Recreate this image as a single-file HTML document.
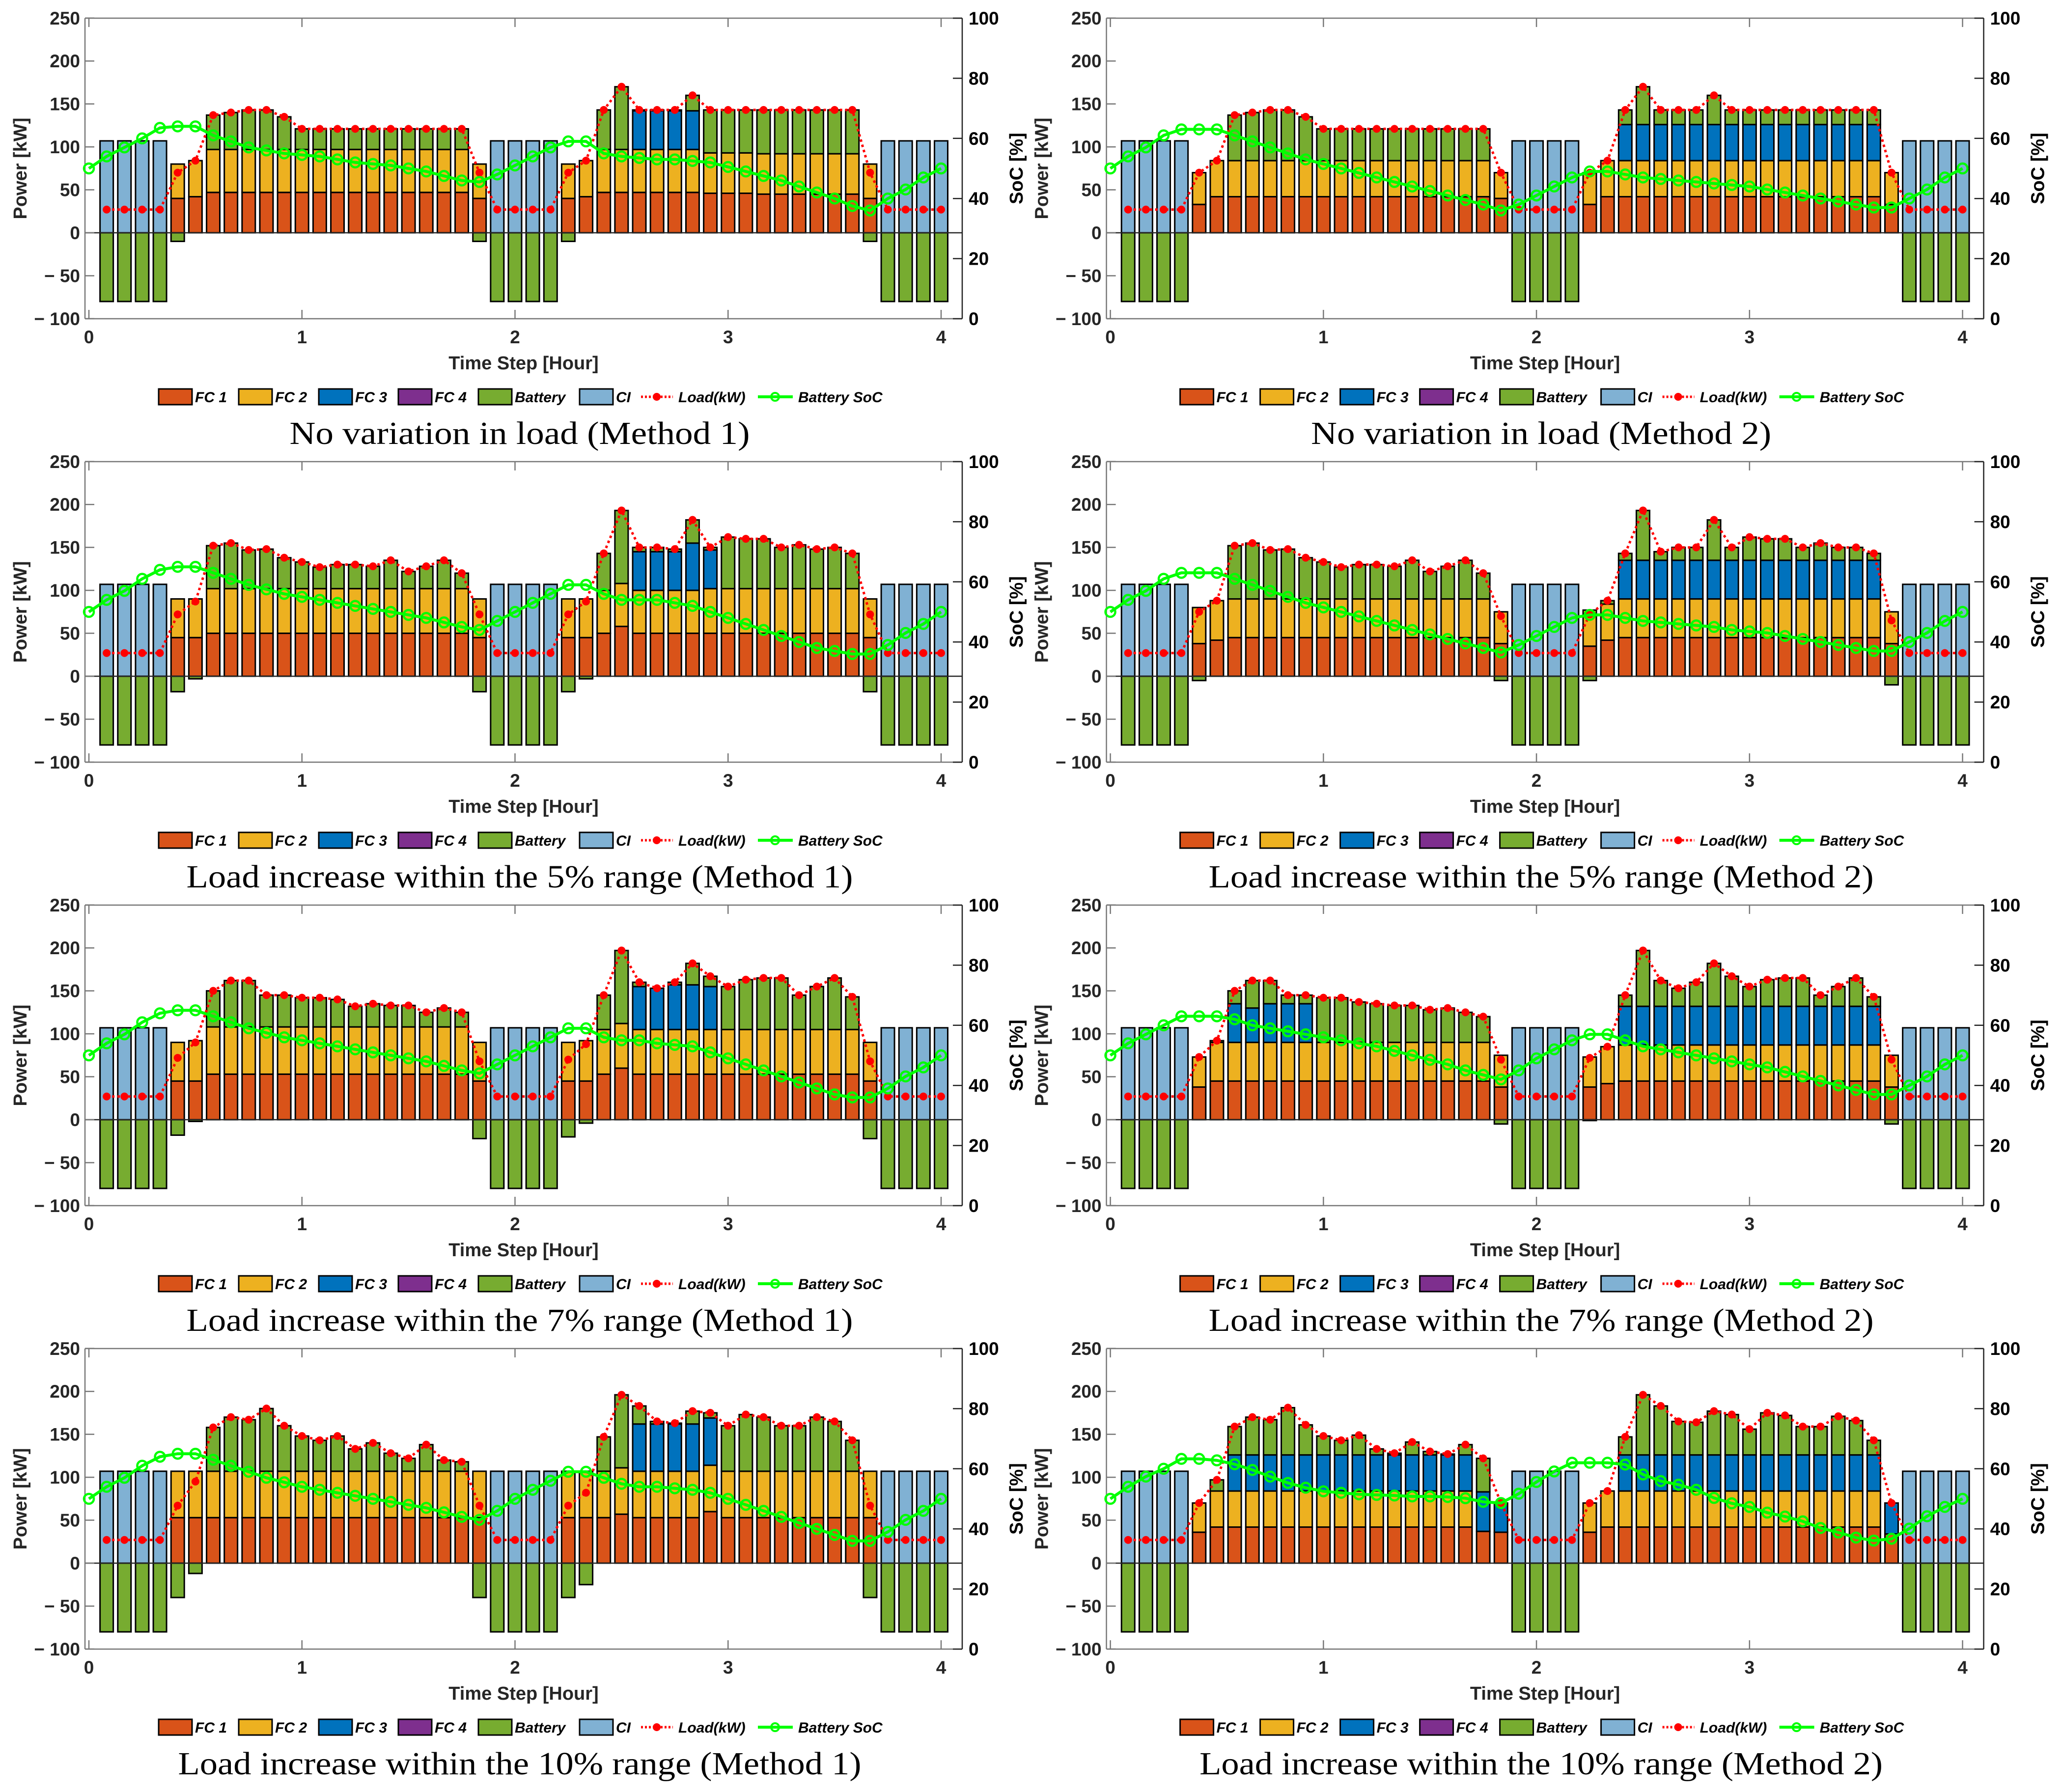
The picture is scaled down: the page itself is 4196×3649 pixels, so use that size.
<!DOCTYPE html>
<html>
<head>
<meta charset="utf-8">
<style>
html,body{margin:0;padding:0;background:#fff;}
svg{display:block;}
</style>
</head>
<body>
<svg id="fig" xmlns="http://www.w3.org/2000/svg" width="4196" height="3649" viewBox="0 0 4196 3649"></svg>
<script>
// ---------- shared data ----------
const ciPower = [107,107,107,107, 0,0,0,0,0,0,0,0,0,0,0,0,0,0,0,0,0,0, 107,107,107,107, 0,0,0,0,0,0,0,0,0,0,0,0,0,0,0,0,0,0, 107,107,107,107];
const xTickLabels = ["0","1","2","3","4"];
const yTickValues = [-100,-50,0,50,100,150,200,250];
const socTickValues = [0,20,40,60,80,100];
const panelTitles = [
  "No variation in load (Method 1)","No variation in load (Method 2)",
  "Load increase within the 5% range (Method 1)","Load increase within the 5% range (Method 2)",
  "Load increase within the 7% range (Method 1)","Load increase within the 7% range (Method 2)",
  "Load increase within the 10% range (Method 1)","Load increase within the 10% range (Method 2)"];
const titleWidths = [937,937,1357,1354,1357,1354,1391,1391];
const legendLabels = ["FC 1","FC 2","FC 3","FC 4","Battery","CI","Load(kW)","Battery SoC"];

// ---------- Panel A: No variation, Method 1 ----------
const loadA = [27,27,27,27,70,84,137,140,143,143,135,121,121,121,121,121,121,121,121,121,121,70,27,27,27,27,70,84,143,170,143,143,143,160,143,143,143,143,143,143,143,143,143,70,27,27,27,27];
const fc1A = [0,0,0,0,40,42,47,47,47,47,47,47,47,47,47,47,47,47,47,47,47,40,0,0,0,0,40,42,47,47,47,47,47,47,46,46,46,45,45,45,45,45,45,40,0,0,0,0];
const fc2A = [0,0,0,0,40,42,50,50,50,50,50,50,50,50,50,50,50,50,50,50,50,40,0,0,0,0,40,42,50,50,50,50,50,50,47,47,47,47,47,47,47,47,47,40,0,0,0,0];
const fc3A = [0,0,0,0,0,0,0,0,0,0,0,0,0,0,0,0,0,0,0,0,0,0,0,0,0,0,0,0,0,0,45,45,45,45,0,0,0,0,0,0,0,0,0,0,0,0,0,0];
const socA = [50,54,57,60,63.5,64,64,61,59,57,56,55,54.5,54,53,52,51.5,51,50,49,47.5,46,45.5,48,51,54,57,59,59,55,54,53.5,53,53,52.5,52,50.5,49,47.5,46,44,42,40,37.5,36,40,43,47,50];

// ---------- Panel B: No variation, Method 2 ----------
const loadB = [27,27,27,27,70,84,137,140,143,143,135,121,121,121,121,121,121,121,121,121,121,70,27,27,27,27,70,84,143,170,143,143,143,160,143,143,143,143,143,143,143,143,143,70,27,27,27,27];
const fc1B = [0,0,0,0,33,42,42,42,42,42,42,42,42,42,42,42,42,42,42,42,42,40,0,0,0,0,33,42,42,42,42,42,42,42,42,42,42,42,42,42,42,42,42,33,0,0,0,0];
const fc2B = [0,0,0,0,37,42,42,42,42,42,42,42,42,42,42,42,42,42,42,42,42,30,0,0,0,0,37,42,42,42,42,42,42,42,42,42,42,42,42,42,42,42,42,37,0,0,0,0];
const fc3B = [0,0,0,0,0,0,0,0,0,0,0,0,0,0,0,0,0,0,0,0,0,0,0,0,0,0,0,0,42,42,42,42,42,42,42,42,42,42,42,42,42,42,42,0,0,0,0,0];
const socB = [50,54,57,61,63,63,63,61,59,57,55,53,51.5,50,48.5,47,45.5,44,42.5,41,39.5,38,36,38,41,44,47,49,49,48,47,46.5,46,45.5,45,44.5,44,43,42,41,40,39,38,37,37,40,43,47,50];

// ---------- Panel C: 5%, Method 1 ----------
const loadC = [27,27,27,27,72,87,152,155,147,148,138,133,127,130,130,128,135,122,128,135,120,72,27,27,27,27,72,87,143,193,150,150,148,182,150,162,160,160,150,153,148,150,143,72,27,27,27,27];
const fc1C = [0,0,0,0,45,45,50,50,50,50,50,50,50,50,50,50,50,50,50,50,50,45,0,0,0,0,45,45,50,58,50,50,50,50,50,50,50,50,50,50,50,50,50,45,0,0,0,0];
const fc2C = [0,0,0,0,45,45,52,52,52,52,52,52,52,52,52,52,52,52,52,52,52,45,0,0,0,0,45,45,50,50,50,50,50,50,52,52,52,52,52,52,52,52,52,45,0,0,0,0];
const fc3C = [0,0,0,0,0,0,0,0,0,0,0,0,0,0,0,0,0,0,0,0,0,0,0,0,0,0,0,0,0,0,45,45,45,55,45,0,0,0,0,0,0,0,0,0,0,0,0,0];
const socC = [50,54,57,61,64,65,65,63,61,59,57.5,56,55,54,53,52,51,50,49,48,46.5,45,44,47,50,53,56,59,59,56,54,54,54,53,52,50,48,46,44,42,40,38,37,36,36,39,43,46,50];

// ---------- Panel D: 5%, Method 2 ----------
const loadD = [27,27,27,27,75,88,152,155,147,148,138,133,127,130,130,128,135,122,128,135,120,70,27,27,27,27,72,88,143,193,145,150,150,182,150,162,160,160,150,155,150,150,143,65,27,27,27,27];
const fc1D = [0,0,0,0,38,42,45,45,45,45,45,45,45,45,45,45,45,45,45,45,45,38,0,0,0,0,35,42,45,45,45,45,45,45,45,45,45,45,45,45,45,45,45,38,0,0,0,0];
const fc2D = [0,0,0,0,42,46,45,45,45,45,45,45,45,45,45,45,45,45,45,45,45,37,0,0,0,0,42,42,45,45,45,45,45,45,45,45,45,45,45,45,45,45,45,37,0,0,0,0];
const fc3D = [0,0,0,0,0,0,0,0,0,0,0,0,0,0,0,0,0,0,0,0,0,0,0,0,0,0,0,0,45,45,45,45,45,45,45,45,45,45,45,45,45,45,45,0,0,0,0,0];
const socD = [50,54,57,61,63,63,63,61,59,57,55,53,51.5,50,48.5,47,45.5,44,42.5,41,39.5,38,36.5,39,42,45,48,49,49,48,47,46.5,46,45.5,45,44,43.5,43,42,41,40,39,38,37,37,40,43,47,50];

// ---------- Panel E: 7%, Method 1 ----------
const loadE = [27,27,27,27,72,90,150,162,162,145,145,142,142,140,132,135,133,133,125,130,125,68,27,27,27,27,70,88,145,197,160,153,160,182,167,155,163,165,165,145,155,165,143,68,27,27,27,27];
const fc1E = [0,0,0,0,45,45,53,53,53,53,53,53,53,53,53,53,53,53,53,53,53,45,0,0,0,0,45,45,53,60,53,53,53,53,53,53,53,53,53,53,53,53,53,45,0,0,0,0];
const fc2E = [0,0,0,0,45,47,55,55,55,55,55,55,55,55,55,55,55,55,55,55,55,45,0,0,0,0,45,47,52,52,52,52,52,52,52,52,52,52,52,52,52,52,52,45,0,0,0,0];
const fc3E = [0,0,0,0,0,0,0,0,0,0,0,0,0,0,0,0,0,0,0,0,0,0,0,0,0,0,0,0,0,0,50,48,52,52,50,0,0,0,0,0,0,0,0,0,0,0,0,0];
const socE = [50,54,57,61,64,65,65,63,61,59,57.5,56,55,54,53,52,51,50,49,48,46.5,45,44,47,50,53,56,59,59,56,55,55,54,53.5,53,51,49,47,45,43,41,39,37,36,36,39,43,46,50];

// ---------- Panel F: 7%, Method 2 ----------
const loadF = [27,27,27,27,73,92,150,162,162,145,145,142,142,137,135,133,133,128,130,125,120,70,27,27,27,27,72,85,145,197,162,153,160,182,167,155,163,165,165,145,155,165,143,70,27,27,27,27];
const fc1F = [0,0,0,0,38,45,45,45,45,45,45,45,45,45,45,45,45,45,45,45,45,38,0,0,0,0,38,42,45,45,45,45,45,45,45,45,45,45,45,45,45,45,45,38,0,0,0,0];
const fc2F = [0,0,0,0,35,45,45,45,45,45,45,45,45,45,45,45,45,45,45,45,45,37,0,0,0,0,35,43,42,42,42,42,42,42,42,42,42,42,42,42,42,42,42,37,0,0,0,0];
const fc3F = [0,0,0,0,0,0,45,40,45,45,45,0,0,0,0,0,0,0,0,0,0,0,0,0,0,0,0,0,45,45,45,45,45,45,45,45,45,45,45,45,45,45,45,0,0,0,0,0];
const socF = [50,54,57,60,63,63,63,62,60,59,58,57,56,55,54,53,51.5,50,48.5,47,45,43.5,42,45,49,52,55,57,57,55,53,52,51,50,49,48,47,46,44.5,43,41.5,40,38.5,37,37,40,43,47,50];

// ---------- Panel G: 10%, Method 1 ----------
const loadG = [27,27,27,27,67,95,158,170,167,180,160,148,143,148,133,140,128,122,138,120,118,67,27,27,27,27,67,82,147,196,183,165,163,177,175,160,173,170,160,160,170,165,143,67,27,27,27,27];
const fc1G = [0,0,0,0,53,53,53,53,53,53,53,53,53,53,53,53,53,53,53,53,53,53,0,0,0,0,53,53,53,57,53,53,53,53,60,53,53,53,53,53,53,53,53,53,0,0,0,0];
const fc2G = [0,0,0,0,54,54,54,54,54,54,54,54,54,54,54,54,54,54,54,54,54,54,0,0,0,0,54,54,54,54,54,54,54,54,54,54,54,54,54,54,54,54,54,54,0,0,0,0];
const fc3G = [0,0,0,0,0,0,0,0,0,0,0,0,0,0,0,0,0,0,0,0,0,0,0,0,0,0,0,0,0,0,55,55,55,55,55,0,0,0,0,0,0,0,0,0,0,0,0,0];
const socG = [50,54,57,61,64,65,65,63,61,59,57,55.5,54,53,52,51,50,49,48,47,45.5,44,43,46,50,53,56,59,59,57,55,54,54,53.5,53,52,50,48,46,44,42,40,38,36,36,39,43,46,50];

// ---------- Panel H: 10%, Method 2 ----------
const loadH = [27,27,27,27,70,97,159,170,167,181,161,148,143,149,133,128,141,130,127,138,122,70,27,27,27,27,70,84,147,196,183,165,164,177,173,156,175,172,159,159,171,166,143,70,27,27,27,27];
const fc1H = [0,0,0,0,36,42,42,42,42,42,42,42,42,42,42,42,42,42,42,42,37,36,0,0,0,0,36,42,42,42,42,42,42,42,42,42,42,42,42,42,42,42,42,34,0,0,0,0];
const fc2H = [0,0,0,0,34,42,42,42,42,42,42,42,42,42,42,42,42,42,42,42,0,0,0,0,0,0,34,42,42,42,42,42,42,42,42,42,42,42,42,42,42,42,42,0,0,0,0,0];
const fc3H = [0,0,0,0,0,0,42,42,42,42,42,42,42,42,42,42,42,42,42,42,46,34,0,0,0,0,0,0,42,42,42,42,42,42,42,42,42,42,42,42,42,42,42,36,0,0,0,0];
const socH = [50,54,57.4,60,63.3,63.3,62.8,61.5,59.6,57.4,55.3,53.7,52.5,52,51.5,51.3,51.1,50.8,50.8,50.6,50.2,49,48.6,51.7,55.6,59.1,62,62,62,61.4,58.1,55.9,54.7,53,50.3,48.5,47.3,45.4,44.1,42.5,40.3,38.8,37.1,36.1,36.7,40.1,44.2,47.3,50];

const panels = [
  {load:loadA, fc1:fc1A, fc2:fc2A, fc3:fc3A, soc:socA},
  {load:loadB, fc1:fc1B, fc2:fc2B, fc3:fc3B, soc:socB},
  {load:loadC, fc1:fc1C, fc2:fc2C, fc3:fc3C, soc:socC},
  {load:loadD, fc1:fc1D, fc2:fc2D, fc3:fc3D, soc:socD},
  {load:loadE, fc1:fc1E, fc2:fc2E, fc3:fc3E, soc:socE},
  {load:loadF, fc1:fc1F, fc2:fc2F, fc3:fc3F, soc:socF},
  {load:loadG, fc1:fc1G, fc2:fc2G, fc3:fc3G, soc:socG},
  {load:loadH, fc1:fc1H, fc2:fc2H, fc3:fc3H, soc:socH}
];

const COL = {fc1:"#D95319", fc2:"#EDB120", fc3:"#0072BD", fc4:"#7E2F8E", bat:"#77AC30", ci:"#80B1D3"};
const NS = "http://www.w3.org/2000/svg";
const svg = document.getElementById("fig");
const SANS = '"Liberation Sans", Arial, sans-serif';
const SERIF = '"Liberation Serif", "Times New Roman", serif';

function mk(parent, tag, attrs, txt) {
  const el = document.createElementNS(NS, tag);
  for (const k in attrs) el.setAttribute(k, attrs[k]);
  if (txt !== undefined) el.textContent = txt;
  parent.appendChild(el);
  return el;
}
function v(a, k) { const x = a[k]; return (typeof x === "number") ? x : 0; }

const STEP_W = 433.75 / 12;

panels.forEach(function (p, idx) {
  const c = idx % 2, r = Math.floor(idx / 2);
  const dx = c * 2079.6, dy = r * 903;
  const L = 173 + dx, R = 1959 + dx, T = 37 + dy, B = 649 + dy;
  const X = function (i) { return 181 + dx + i * STEP_W; };
  const Y = function (val) { return 474 + dy - val * 1.749; };
  const S = function (s) { return 649 + dy - s * 6.12; };

  const g = mk(svg, "g", {});
  
  

  // bars
  const bars = mk(g, "g", {"stroke": "#000", "stroke-width": 3});
  
  
  for (let i = 1; i <= 48; i++) {
    const k = i - 1;
    const f1 = v(p.fc1, k), f2 = v(p.fc2, k), f3 = v(p.fc3, k), ci = v(ciPower, k);
    const bat = v(p.load, k) - f1 - f2 - f3 - ci;
    const segs = [[f1, COL.fc1, 'fc1'], [f2, COL.fc2, 'fc2'], [f3, COL.fc3, 'fc3'], [bat > 0 ? bat : 0, COL.bat, 'battery'], [ci, COL.ci, 'ci']];
    let base = 0;
    const bw = 27, bx = X(i) - bw / 2;
    segs.forEach(function (s) {
      if (s[0] > 0.3) {
        const y1 = Y(base + s[0]), y0 = Y(base);
        const rc = mk(bars, "rect", {x: bx, y: y1, width: bw, height: y0 - y1, fill: s[1]});
        
        
        base += s[0];
      }
    });
    if (bat < -0.3) {
      const rc = mk(bars, "rect", {x: bx, y: Y(0), width: bw, height: Y(bat) - Y(0), fill: COL.bat});
      
      
    }
  }

  // zero line
  const zl = mk(g, "line", {x1: L, x2: R, y1: Y(0), y2: Y(0), stroke: "#262626", "stroke-width": 2.5});
  
  

  // axes box
  const ax = mk(g, "g", {"stroke-width": 2.5, fill: "none"});
  
  
  const l1 = mk(ax, "line", {x1: L, x2: L, y1: T, y2: B, stroke: "#777"});
  
  
  const l2 = mk(ax, "line", {x1: L, x2: R, y1: T, y2: T, stroke: "#777"});
  
  
  const l3 = mk(ax, "line", {x1: L, x2: R, y1: B, y2: B, stroke: "#777"});
  
  
  const l4 = mk(ax, "line", {x1: R, x2: R, y1: T, y2: B, stroke: "#222"});
  
  

  // left ticks + labels
  yTickValues.forEach(function (tv) {
    const yy = Y(tv);
    const t = mk(ax, "line", {x1: L, x2: L + 19, y1: yy, y2: yy, stroke: "#777"});
    
    
    const lab = tv < 0 ? "\u2212 " + Math.abs(tv) : String(tv);
    const tx = mk(g, "text", {x: L - 10, y: yy + 13, "text-anchor": "end", "font-family": SANS, "font-weight": "bold", "font-size": 37, fill: "#262626"}, lab);
    
    
  });
  // right ticks + labels
  socTickValues.forEach(function (sv) {
    const yy = S(sv);
    const t = mk(ax, "line", {x1: R, x2: R - 19, y1: yy, y2: yy, stroke: "#222"});
    
    
    const tx = mk(g, "text", {x: R + 13, y: yy + 13, "text-anchor": "start", "font-family": SANS, "font-weight": "bold", "font-size": 37, fill: "#000"}, String(sv));
    
    
  });
  // x ticks
  xTickLabels.forEach(function (lab, h) {
    const xx = X(h * 12);
    const t1 = mk(ax, "line", {x1: xx, x2: xx, y1: B, y2: B - 18, stroke: "#777"});
    
    
    const t2 = mk(ax, "line", {x1: xx, x2: xx, y1: T, y2: T + 18, stroke: "#777"});
    
    
    const tx = mk(g, "text", {x: xx, y: B + 50, "text-anchor": "middle", "font-family": SANS, "font-weight": "bold", "font-size": 37, fill: "#262626"}, lab);
    
    
  });

  // axis titles
  const xt = mk(g, "text", {x: (L + R) / 2, y: B + 103, "text-anchor": "middle", "font-family": SANS, "font-weight": "bold", "font-size": 38, fill: "#262626"}, "Time Step [Hour]");
  
  
  const yt = mk(g, "text", {x: 0, y: 0, transform: "translate(" + (54 + dx) + "," + ((T + B) / 2) + ") rotate(-90)", "text-anchor": "middle", "font-family": SANS, "font-weight": "bold", "font-size": 38, fill: "#262626"}, "Power [kW]");
  
  
  const st = mk(g, "text", {x: 0, y: 0, transform: "translate(" + (2082 + dx) + "," + ((T + B) / 2) + ") rotate(-90)", "text-anchor": "middle", "font-family": SANS, "font-weight": "bold", "font-size": 38, fill: "#000"}, "SoC [%]");
  
  

  // load line
  let ld = "";
  for (let i = 1; i <= 48; i++) ld += (i === 1 ? "M" : "L") + X(i).toFixed(1) + "," + Y(v(p.load, i - 1)).toFixed(1);
  const lp = mk(g, "path", {d: ld, fill: "none", stroke: "#FF0000", "stroke-width": 5, "stroke-dasharray": "5 6"});
  
  
  for (let i = 1; i <= 48; i++) {
    const d = mk(g, "circle", {cx: X(i), cy: Y(v(p.load, i - 1)), r: 8, fill: "#FF0000"});
    
    
  }

  // SoC line
  let sd = "";
  for (let i = 0; i <= 48; i++) sd += (i === 0 ? "M" : "L") + X(i).toFixed(1) + "," + S(v(p.soc, i)).toFixed(1);
  const sp = mk(g, "path", {d: sd, fill: "none", stroke: "#00FF00", "stroke-width": 6});
  
  
  for (let i = 0; i <= 48; i++) {
    const d = mk(g, "circle", {cx: X(i), cy: S(v(p.soc, i)), r: 10, fill: "none", stroke: "#00FF00", "stroke-width": 4.5});
    
    
  }

  // legend
  const lg = mk(g, "g", {});
  
  
  const ly = 808 + dy;
  const swX = [323, 486, 649, 811, 974, 1180];
  const swC = [COL.fc1, COL.fc2, COL.fc3, COL.fc4, COL.bat, COL.ci];
  for (let j = 0; j < 6; j++) {
    const sw = mk(lg, "rect", {x: swX[j] + dx, y: ly - 16, width: 68, height: 32, fill: swC[j], stroke: "#000", "stroke-width": 3});
    
    
    const lt = mk(lg, "text", {x: swX[j] + 74 + dx, y: ly + 11, "font-family": SANS, "font-weight": "bold", "font-style": "italic", "font-size": 30, fill: "#000"}, legendLabels[j]);
    
    
  }
  const ll = mk(lg, "line", {x1: 1305 + dx, x2: 1370 + dx, y1: ly, y2: ly, stroke: "#FF0000", "stroke-width": 5, "stroke-dasharray": "4 4"});
  
  
  const lc = mk(lg, "circle", {cx: 1337 + dx, cy: ly, r: 8, fill: "#FF0000"});
  
  
  const lt6 = mk(lg, "text", {x: 1381 + dx, y: ly + 11, "font-family": SANS, "font-weight": "bold", "font-style": "italic", "font-size": 30, fill: "#000"}, legendLabels[6]);
  
  
  const sl = mk(lg, "line", {x1: 1543 + dx, x2: 1614 + dx, y1: ly, y2: ly, stroke: "#00FF00", "stroke-width": 6});
  
  
  const sc = mk(lg, "circle", {cx: 1578 + dx, cy: ly, r: 8, fill: "none", stroke: "#00FF00", "stroke-width": 4});
  
  
  const lt7 = mk(lg, "text", {x: 1625 + dx, y: ly + 11, "font-family": SANS, "font-weight": "bold", "font-style": "italic", "font-size": 30, fill: "#000"}, legendLabels[7]);
  
  

  // panel caption
  const tt = mk(g, "text", {x: 1058 + dx, y: 904 + dy, "text-anchor": "middle", "font-family": SERIF, "font-size": 66, fill: "#000", textLength: titleWidths[idx], lengthAdjust: "spacingAndGlyphs"}, panelTitles[idx]);
  
  
});
</script>
</body>
</html>
